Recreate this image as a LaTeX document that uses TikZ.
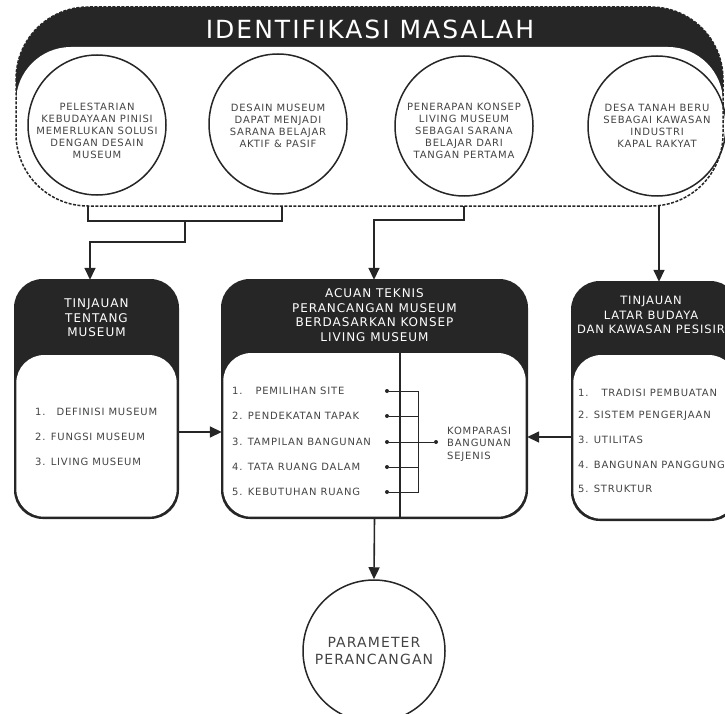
\documentclass[tikz,border=0pt]{standalone}
\usepackage{fontspec}
\setmainfont[LetterSpace=8]{DejaVu Sans}
\usepackage{tikz}
\usetikzlibrary{shapes.geometric,arrows.meta}
\definecolor{ink}{HTML}{262626}
\definecolor{abu}{HTML}{444444}

\begin{document}
\begin{tikzpicture}[x=1pt,y=-1pt,
  garis/.style={draw=ink,line width=1.6pt},
  tipis/.style={draw=ink,line width=0.9pt},
  panah/.style={garis,-{Triangle[length=12pt,width=11pt]}},
  putus/.style={draw=ink,line width=1.5pt,dash pattern=on 3pt off 1.5pt},
  lingkaran/.style={draw=ink,line width=1.5pt,ellipse,minimum width=138pt,minimum height=140pt,inner sep=0pt},
  teks/.style={text=abu,align=center,font=\fontsize{10}{12}\selectfont,inner sep=0pt},
  judul/.style={text=white,font=\fontsize{25}{28}\selectfont,inner sep=0pt},
  kepala/.style={text=white,align=center,font=\fontsize{12}{14.5}\selectfont,inner sep=0pt},
  isi/.style={text=abu,anchor=west,font=\fontsize{10}{12.5}\selectfont,inner sep=0pt},
  kotak/.style={fill=ink,rounded corners=28pt,inner sep=0pt},
  titik/.style={circle,fill=ink,inner sep=0pt,minimum size=4pt}]
\useasboundingbox (0,0) rectangle (725,714);
\clip (0,0) rectangle (725,714);

% identifikasi masalah
\begin{scope}
\clip[rounded corners=72pt] (16,7) rectangle (723,206);
\fill[ink] (0,0) rectangle (725,130);
\fill[white,rounded corners=55pt] (16,47) rectangle (723,280);
\end{scope}
\draw[putus,rounded corners=72pt] (16,7) rectangle (723,206);
\node[judul] (judul) at (370,29) {IDENTIFIKASI MASALAH};

\node[lingkaran] (m1) at (97,125) {};
\node[lingkaran] (m2) at (278,124) {};
\node[lingkaran] (m3) at (464,126) {};
\node[lingkaran] (m4) at (657,126) {};
\node[teks] (t1) at (97,131) {PELESTARIAN\\KEBUDAYAAN PINISI\\MEMERLUKAN SOLUSI\\DENGAN DESAIN\\MUSEUM};
\node[teks] (t2) at (278,126) {DESAIN MUSEUM\\DAPAT MENJADI\\SARANA BELAJAR\\AKTIF \& PASIF};
\node[teks] (t3) at (464,131) {PENERAPAN KONSEP\\LIVING MUSEUM\\SEBAGAI SARANA\\BELAJAR DARI\\TANGAN PERTAMA};
\node[teks] (t4) at (657,126) {DESA TANAH BERU\\SEBAGAI KAWASAN\\INDUSTRI\\KAPAL RAKYAT};

% kotak tinjauan museum
\node[kotak,minimum width=163pt,minimum height=238pt] (tm) at (96.5,399) {};
\fill[white,rounded corners=28pt] ([xshift=1.5pt,yshift=1.5pt]tm.south west) rectangle ([xshift=-1.5pt]tm.east |- 0,355);
\draw[garis,rounded corners=28pt] (tm.south west) rectangle (tm.north east);
\node[kepala] (tmh) at (96.5,318) {TINJAUAN\\TENTANG\\MUSEUM};
\node[isi] (tm1) at (35,412) {1.\hspace{1.1em}DEFINISI MUSEUM};
\node[isi] (tm2) at (35,437) {2. FUNGSI MUSEUM};
\node[isi] (tm3) at (35,462) {3. LIVING MUSEUM};

% kotak acuan teknis
\node[kotak,minimum width=305pt,minimum height=238pt] (acuan) at (374.5,399) {};
\fill[white,rounded corners=28pt] ([xshift=1.5pt,yshift=1.5pt]acuan.south west) rectangle ([xshift=-1.5pt]acuan.east |- 0,353);
\draw[garis,rounded corners=28pt] (acuan.south west) rectangle (acuan.north east);
\node[kepala] (ach) at (374.5,315) {ACUAN TEKNIS\\PERANCANGAN MUSEUM\\BERDASARKAN KONSEP\\LIVING MUSEUM};
\coordinate (v1) at (400,353);
\draw[garis,line width=1.3pt] (v1) -- (v1 |- acuan.south);
\node[isi] (ac1) at (232,391) {1.\hspace{1.3em}PEMILIHAN SITE};
\node[isi] (ac2) at (232,416) {2. PENDEKATAN TAPAK};
\node[isi] (ac3) at (232,442) {3. TAMPILAN BANGUNAN};
\node[isi] (ac4) at (232,467) {4. TATA RUANG DALAM};
\node[isi] (ac5) at (232,492) {5. KEBUTUHAN RUANG};
\node[titik] (d1) at (387,391) {};
\node[titik] (d2) at (387,416) {};
\node[titik] (d3) at (387,442) {};
\node[titik] (d4) at (387,467) {};
\node[titik] (d5) at (387,492) {};
\node[titik] (d6) at (436,442) {};
\coordinate (kb) at (418,442);
\draw[tipis] (d1) -| (kb);
\draw[tipis] (d2) -| (kb);
\draw[tipis] (d3) -- (d6);
\draw[tipis] (d4) -| (kb);
\draw[tipis] (d5) -| (kb);
\node[isi,align=left] (komp) at (447,444) {KOMPARASI\\BANGUNAN\\SEJENIS};

% kotak tinjauan latar budaya
\node[kotak,minimum width=166pt,minimum height=238pt] (tl) at (655,401) {};
\fill[white,rounded corners=28pt] ([xshift=1.5pt,yshift=1.5pt]tl.south west) rectangle ([xshift=-1.5pt]tl.east |- 0,355);
\draw[garis,rounded corners=28pt] (tl.south west) rectangle (tl.north east);
\node[kepala,font=\fontsize{11.5}{14.5}\selectfont] (tlh) at (651,315) {TINJAUAN\\LATAR BUDAYA\\DAN KAWASAN PESISIR};
\node[isi] (tl1) at (578,393) {1.\hspace{1.3em}TRADISI PEMBUATAN};
\node[isi] (tl2) at (578,416) {2. SISTEM PENGERJAAN};
\node[isi] (tl3) at (578,440) {3. UTILITAS};
\node[isi] (tl4) at (578,465) {4. BANGUNAN PANGGUNG};
\node[isi] (tl5) at (578,489) {5. STRUKTUR};

% parameter
\node[draw=ink,line width=1.5pt,circle,minimum size=142pt,inner sep=0pt,text=abu,align=center,
  font=\fontsize{14}{17}\selectfont] (param) at (374,651) {PARAMETER\\PERANCANGAN};

% penghubung
\coordinate (b1) at (88,206);
\coordinate (b2) at (282,206);
\coordinate (j1) at (185,221);
\coordinate (a1) at (90,242);
\coordinate (b3) at (464,206);
\coordinate (j3) at (374,220);
\coordinate (b4) at (659,206);
\draw[garis] (b1) |- (j1) -| (b2);
\draw[panah] (j1) |- (a1) -- (a1 |- tm.north);
\draw[panah] (b3) |- (j3) -- (j3 |- acuan.north);
\draw[panah] (b4) -- (b4 |- tl.north);
\draw[panah] (tm.east |- 0,432) -- (acuan.west |- 0,432);
\draw[panah] (tl.west |- 0,437) -- (acuan.east |- 0,437);
\draw[panah] (acuan.south) -- (param.north);
\end{tikzpicture}
\end{document}
